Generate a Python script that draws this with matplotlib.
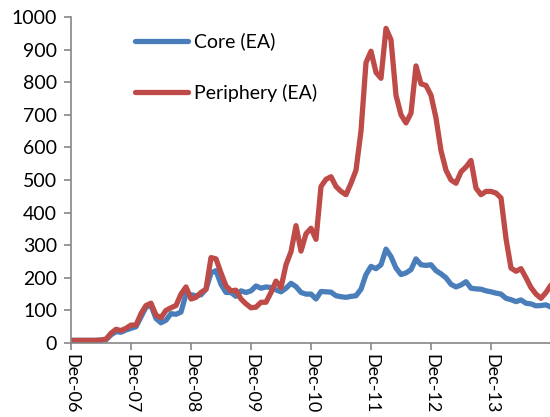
import matplotlib.pyplot as plt
import numpy as np

# Monthly values, Dec-06 onwards
core = [8, 8, 8, 8, 8, 8, 9, 10, 25, 35, 33, 40,
        45, 50, 80, 110, 115, 75, 62, 70, 90, 88, 95, 150,
        148, 145, 148, 165, 215, 222, 180, 155, 155, 143, 160, 155,
        160, 175, 168, 172, 170, 163, 157, 168, 183, 173, 155, 150,
        150, 135, 158, 157, 156, 145, 142, 140, 143, 145, 165, 210,
        235, 228, 240, 288, 265, 230, 210, 215, 225, 258, 240, 238,
        240, 222, 212, 200, 180, 172, 178, 188, 168, 166, 165, 160,
        157, 153, 150, 137, 133, 127, 132, 122, 120, 114, 115, 117,
        110]
periphery = [8, 8, 8, 8, 8, 8, 9, 12, 30, 42, 38, 45,
             55, 55, 90, 115, 122, 85, 78, 100, 108, 115, 150, 172,
             135, 140, 155, 165, 262, 258, 215, 175, 160, 162, 135, 120,
             108, 110, 125, 125, 155, 190, 170, 240, 280, 360, 282, 335,
             352, 318, 480, 502, 510, 480, 465, 455, 490, 530, 650, 860,
             895, 830, 812, 965, 930, 760, 700, 675, 705, 850, 795, 790,
             760, 690, 590, 530, 500, 490, 525, 540, 560, 475, 455, 465,
             465, 460, 445, 320, 230, 220, 228, 200, 170, 150, 137, 155,
             178]
tick_labels = ["Dec-06", "Dec-07", "Dec-08", "Dec-09", "Dec-10", "Dec-11", "Dec-12", "Dec-13"]

plt.rcParams['font.family'] = ['Lato', 'DejaVu Sans']

fig = plt.figure(figsize=(5.5, 4.17), dpi=100)
ax = fig.add_axes([71 / 550, 74 / 417, 479 / 550, 326 / 417])

months = np.arange(len(core))
ax.plot(months, core, color='#4A7EBB', linewidth=3.8, label='Core (EA)', solid_capstyle='round')
ax.plot(months, periphery, color='#BE4B48', linewidth=3.8, label='Periphery (EA)', solid_capstyle='round')

ax.set_xlim(0, 95.8)
ax.set_ylim(0, 1000)
ax.set_yticks(range(0, 1001, 100))
ax.set_xticks(range(0, 12 * len(tick_labels), 12))
ax.set_xticklabels(tick_labels, rotation=-90, va='top', ha='center')

for side in ['top', 'right']:
    ax.spines[side].set_visible(False)
for side in ['left', 'bottom']:
    ax.spines[side].set_color('#868686')
    ax.spines[side].set_linewidth(1.2)
ax.tick_params(axis='both', colors='#868686', length=5, width=1.2, labelsize=14, labelcolor='black')
ax.tick_params(axis='y', pad=5)
ax.tick_params(axis='x', pad=3, labelsize=13)

ax.legend(loc='upper left', bbox_to_anchor=(0.134, 0.952), frameon=False,
          fontsize=14, handlelength=2.7, handletextpad=0.3, labelspacing=1.7,
          borderpad=0, borderaxespad=0)

fig.savefig('out.png', dpi=100)
